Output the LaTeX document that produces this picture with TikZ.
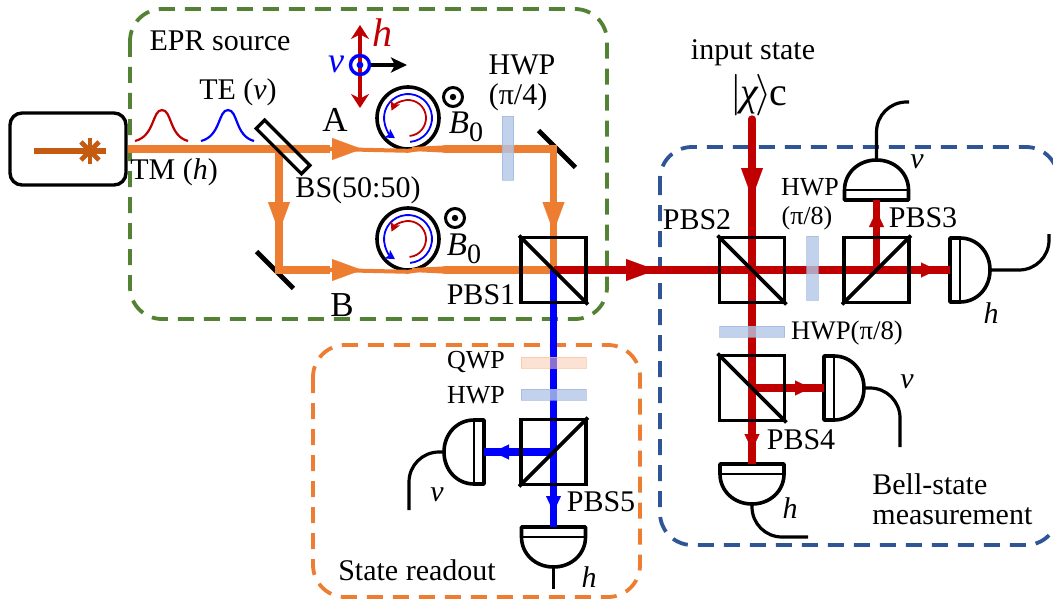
\documentclass[tikz,border=0pt]{standalone}
\usepackage{amsmath}
\usepackage{fontspec}
\setmainfont{Liberation Serif}
\usepackage{xcolor}
\usetikzlibrary{positioning,arrows.meta,calc}
\definecolor{pump}{HTML}{ED7D31}
\definecolor{pumpdark}{HTML}{C55A11}
\definecolor{sigred}{HTML}{C00000}
\definecolor{srcgreen}{HTML}{548235}
\definecolor{bsmblue}{HTML}{2F5597}
\definecolor{platebl}{HTML}{B4C7E7}
\definecolor{plateor}{HTML}{F8CBAD}

\begin{document}
\begin{tikzpicture}[
  x=0.5pt, y=-0.5pt,
  lab/.style={inner sep=0pt, font=\fontsize{15}{16}\selectfont},
  labs/.style={inner sep=0pt, font=\fontsize{13}{15}\selectfont},
  labb/.style={inner sep=0pt, font=\fontsize{17.5}{20}\selectfont},
  dashbox/.style={line width=1.9pt, rounded corners=16pt, dash pattern=on 8pt off 5pt},
  cube/.style={draw=black, line width=1.9pt, minimum size=32.5pt, inner sep=0pt},
  beam/.style={line width=3.6pt},
  wire/.style={line width=1.6pt, rounded corners=15pt},
  mirror/.style={fill=black, rotate=-45, minimum width=26pt, minimum height=2.4pt, inner sep=0pt},
  platev/.style={fill=platebl, draw=platebl!80!bsmblue, fill opacity=0.8, draw opacity=0.6, line width=0.5pt,
                 minimum width=5.6pt, minimum height=32pt, inner sep=0pt},
  plateh/.style={platev, minimum width=32.5pt, minimum height=5.5pt},
  bigtip/.style={line width=0.1pt, -{Triangle[length=15pt,width=11pt]}},
  smalltip/.style={line width=0.1pt, -{Triangle[length=8pt,width=7.5pt]}},
  det/.pic={
    \draw[line width=1.8pt, line join=round, fill=white] (-32,0) -- (32,0) -- (32,-10) .. controls (32,-27) and (18,-40) .. (0,-40)
      .. controls (-18,-40) and (-32,-27) .. (-32,-10) -- cycle;
    \draw[line width=0.9pt] (-32,-10) -- (32,-10);
    \coordinate (-top) at (0,-40);
    \coordinate (-base) at (0,0);
  }]
\useasboundingbox (0,0) rectangle (1053,599);

% dashed groups
\draw[dashbox, draw=srcgreen] (130,9) rectangle (607,319);
\draw[dashbox, draw=bsmblue] (660,147) rectangle (1058,545);
\draw[dashbox, draw=pump] (313,345) rectangle (640,597);

% optical parts
\node[draw=black, line width=1.7pt, rounded corners=6pt, minimum width=58pt, minimum height=36pt, inner sep=0pt] (laser) at (68,149) {};
\node[circle, draw=black, line width=1.8pt, minimum size=31pt, inner sep=0pt] (ringa) at (408,118) {};
\node[circle, draw=black, line width=1.8pt, minimum size=31pt, inner sep=0pt] (ringb) at (408,239) {};
\node[mirror] (mira) at (557,149) {};
\node[mirror] (mirb) at (275,270) {};
\coordinate (split) at (279,149);
\coordinate (corna) at (553.5,149);
\coordinate (cornb) at (split |- mirb);
\coordinate (inp) at (752,119);
\foreach \n/\x/\y in {pbsone/553.5/270,pbstwo/752/270,pbsthree/876.5/270,pbsfour/752/388,pbsfive/553.5/452}
  \coordinate (\n) at (\x,\y);

% detectors
\pic (dup) at (876.5,200) {det};
\pic[rotate=-90] (dright) at (950,270) {det};
\pic[rotate=-90] (dfour) at (824,388) {det};
\pic[rotate=180] (ddown) at (752,464) {det};
\pic[rotate=90] (dleft) at (484,452) {det};
\pic[rotate=180] (dread) at (553.5,527) {det};

% beams
\draw[beam, draw=pump, line join=miter] (laser.east) -- (split) -- (cornb) -- (330,270);
\draw[beam, draw=pump] (split) -- (330,149);
\draw[line width=2pt, draw=pump] (330,149) -- (ringa.south) -- (420,149);
\draw[line width=2pt, draw=pump] (330,270) -- (ringb.south) -- (420,270);
\foreach \r/\y in {ringa/149,ringb/270}
  \fill[pump] (412,\y-2) -- (444,\y-3.6) -- (444,\y+3.6) -- (412,\y+2) -- cycle;
\draw[beam, draw=pump, line join=miter] (444,149) -- (corna) -- (pbsone);
\draw[beam, draw=pump] (444,270) -- (pbsone);
\draw[beam, draw=blue] (pbsone) -- (pbsfive) -- (dread-base);
\draw[beam, draw=blue] (pbsfive) -- (dleft-base);
\draw[beam, draw=sigred] (pbsone) -- (pbstwo) -- (pbsthree) -- (dright-base);
\draw[beam, draw=sigred] (pbsthree) -- (dup-base);
\draw[beam, draw=sigred, line cap=round] (inp) -- (pbstwo);
\draw[beam, draw=sigred] (pbstwo) -- (pbsfour) -- (ddown-base);
\draw[beam, draw=sigred] (pbsfour) -- (dfour-base);

% arrow heads on the beams
\foreach \c/\xa/\ya/\xb/\yb in {pump/330/149/362/149,pump/330/270/362/270,pump/279/200/279/232,pump/553.5/200/553.5/232,
    sigred/625/270/656/270,sigred/752/167/752/198}
  \draw[bigtip, draw=\c, fill=\c] (\xa,\ya) -- (\xb,\yb);
\foreach \c/\xa/\ya/\xb/\yb in {sigred/876.5/227/876.5/211,sigred/919/270/937/270,sigred/795/388/811/388,sigred/752/434/752/450,
    blue/509/452/493/452,blue/553.5/496/553.5/512}
  \draw[smalltip, draw=\c, fill=\c] (\xa,\ya) -- (\xb,\yb);

% cubes
\foreach \n in {pbsone,pbstwo,pbsfour}{
  \node[cube] (\n c) at (\n) {};
  \draw[line width=1.9pt] (\n c.north west) -- (\n c.south east);
}
\foreach \n in {pbsthree,pbsfive}{
  \node[cube] (\n c) at (\n) {};
  \draw[line width=1.9pt] (\n c.south west) -- (\n c.north east);
}

% wave plates
\node[platev] (hwpa) at (508,148) {};
\node[platev] (hwpb) at (812.5,268) {};
\node[plateh] (hwpc) at (752,331.5) {};
\node[plateh, fill=plateor, fill opacity=0.55, draw=plateor!80!pump] (qwp) at (553.5,362.5) {};
\node[plateh] (hwpd) at (553.5,394.5) {};

% beam splitter
\node[draw=black, line width=1.6pt, rotate=-45, minimum width=32pt, minimum height=6pt, inner sep=0pt] (bs) at (283,147) {};

% laser inside
\coordinate (star) at (90,151);
\draw[line width=2.8pt, draw=pumpdark] (34,151) -- (106,151);
\foreach \a in {0,45,...,315}
  \draw[line width=2.4pt, draw=pumpdark] (star) -- ++(\a:6.4pt);

% rings
\foreach \r in {ringa,ringb}{
  \draw[blue, line width=0.9pt, -{Stealth[length=4.5pt,width=5pt,inset=1pt]}] (\r.center) ++(-85:12pt) arc[start angle=-85, end angle=237, radius=12pt];
  \draw[sigred, line width=0.9pt, -{Stealth[length=4.5pt,width=5pt,inset=1pt]}] (\r.center) ++(-85:9pt) arc[start angle=-85, end angle=156, radius=9pt];
}

% field dots
\foreach \n/\x/\y in {fielda/453/97,fieldb/455/218}{
  \node[circle, draw=black, line width=1.5pt, minimum size=9.5pt, inner sep=0pt] (\n) at (\x,\y) {};
  \fill[black] (\n) circle[radius=1.6pt];
}

% polarization axes
\coordinate (axis) at (360,65);
\draw[sigred, line width=1.9pt, {Stealth[length=7pt,width=9pt]}-{Stealth[length=7pt,width=9pt]}] (360,25) -- (360,108);
\draw[black, line width=1.6pt, -{Stealth[length=8pt,width=7.5pt,inset=2pt]}] (369,65) -- (407,65);
\node[circle, draw=blue, line width=1.7pt, minimum size=9.5pt, inner sep=0pt] (vring) at (axis) {};
\fill[blue] (axis) circle[radius=1.7pt];

% pulses
\draw[sigred, line width=1.1pt] (135,141) .. controls (155,136) and (152,110) .. (162,110) .. controls (172,110) and (169,136) .. (188,141);
\draw[blue, line width=1.1pt] (201,141) .. controls (221,136) and (218,110) .. (228,110) .. controls (238,110) and (235,136) .. (254,141);

% detector leads
\coordinate (enda) at (909,102);
\coordinate (endb) at (1049,234);
\coordinate (endc) at (900,447);
\coordinate (endd) at (808,537);
\coordinate (ende) at (409,510);
\coordinate (endf) at (553.5,589);
\draw[wire] (dup-top) |- (enda);
\draw[wire] (dright-top) -| (endb);
\draw[wire] (dfour-top) -| (endc);
\draw[wire] (ddown-top) |- (endd);
\draw[wire] (dleft-top) -| (ende);
\draw[wire] (dread-top) -- (endf);

% labels
\node[lab] (lepr) at (220,41) {EPR source};
\node[lab] (lte) at (238,92) {TE (\textit{v})};
\node[lab] (ltm) at (174,172) {TM (\textit{h})};
\node[labb] (la) at (335,120) {A};
\node[labb] (lb) at (342,305) {B};
\node[lab] (lbs) at (358,190) {BS(50:50)};
\node[lab] (lhwpa) at (522,65) {HWP};
\node[lab] (lhwpb) at (518,97) {(π/4)};
\node[lab] (lpbsa) at (481,295) {PBS1};
\node[labb, font=\fontsize{20}{22}\selectfont, text=sigred] (lh) at (382,33) {\textit{h}};
\node[labb, font=\fontsize{18}{22}\selectfont, text=blue] (lv) at (336,64) {\textit{v}};
\node[labb, font=\fontsize{16.5}{20}\selectfont] (lba) at (466,127) {\textit{B}\raisebox{-4pt}{\fontsize{14}{15}\selectfont 0}};
\node[labb, font=\fontsize{16.5}{20}\selectfont] (lbb) at (464,249) {\textit{B}\raisebox{-4pt}{\fontsize{14}{15}\selectfont 0}};
\node[lab] (linp) at (753,53) {input state};
\node[labb, font=\fontsize{20}{22}\selectfont] (lchi) at (759,95) {$|$\kern-1pt\textit{χ}\kern-1.5pt$\rangle$\kern-1pt c};
\node[lab] (lpbsb) at (697,220) {PBS2};
\node[labs] (lhwpc) at (810,187) {HWP};
\node[labs] (lhwpd) at (807,218) {(π/8)};
\node[lab] (lpbsc) at (923,218) {PBS3};
\node[lab] (lva) at (917,162) {\textit{v}};
\node[lab] (lha) at (991,313) {\textit{h}};
\node[labs, font=\fontsize{13.4}{15}\selectfont] (lhwpe) at (847,333) {HWP(π/8)};
\node[lab] (lpbsd) at (801,440) {PBS4};
\node[lab] (lvb) at (907,382) {\textit{v}};
\node[lab] (lhb) at (790,508) {\textit{h}};
\node[lab, align=left, anchor=west, font=\fontsize{15}{15}\selectfont] (lbell) at (872,499) {Bell-state\\measurement};
\node[labs] (lqwp) at (476,362) {QWP};
\node[labs] (lhwpf) at (476,395) {HWP};
\node[lab] (lvc) at (437,495) {\textit{v}};
\node[lab] (lpbse) at (601,502) {PBS5};
\node[lab] (lread) at (417,570) {State readout};
\node[lab] (lhc) at (589,577) {\textit{h}};
\end{tikzpicture}
\end{document}
